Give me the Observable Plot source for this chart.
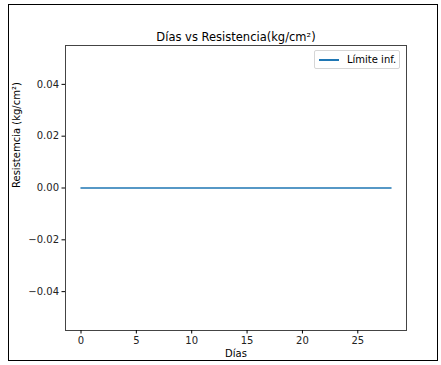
<!DOCTYPE html>
<html>
<head>
<meta charset="utf-8">
<script src="https://cdn.jsdelivr.net/npm/d3@7"></script>
<script src="https://cdn.jsdelivr.net/npm/@observablehq/plot@0.6"></script>
<style>
  html, body { margin: 0; padding: 0; background: #fff; }
  body { width: 441px; height: 365px; position: relative; overflow: hidden; font-family: "DejaVu Sans", sans-serif; }
  #border { position: absolute; left: 8px; top: 4px; width: 430px; height: 357px; border: 1.5px solid #000; box-sizing: border-box; pointer-events: none; }
  #chart { position: absolute; left: 0; top: 0; }
  #legend { position: absolute; left: 314px; top: 50px; width: 86px; height: 19px; border: 1px solid #d6d6d6; border-radius: 2px; background: #fff; box-sizing: border-box; font-size: 10px; color: #000; }
  #legend .sw { position: absolute; left: 4px; top: 8px; width: 20px; height: 2px; background: #1f77b4; }
  #legend .lb { position: absolute; left: 32px; top: 3px; white-space: nowrap; }
</style>
</head>
<body>
<div id="chart"></div>
<div id="border"></div>
<div id="legend"><div class="sw"></div><div class="lb"></div></div>
<script>
const days = [0, 3, 7, 14, 21, 28];
const limiteInf = [0, 0, 0, 0, 0, 0];
const seriesName = "Límite inf.";
const xTicks = [0, 5, 10, 15, 20, 25];
const yTicks = [-0.04, -0.02, 0.00, 0.02, 0.04];
const title = "Días vs Resistencia(kg/cm²)";
const xLabel = "Días";
const yLabel = "Resistemcia (kg/cm²)";

const data = days.map((d, i) => ({day: d, value: limiteInf[i]}));
const fmt = d3.format(".2f");

const chart = Plot.plot({
  width: 441,
  height: 365,
  marginLeft: 65,
  marginRight: 35,
  marginTop: 45,
  marginBottom: 35,
  style: {fontFamily: "DejaVu Sans, sans-serif", fontSize: "10px", background: "transparent", color: "#000"},
  x: {domain: [-1.4, 29.4], ticks: xTicks, tickSize: 3.5, label: null},
  y: {domain: [-0.055, 0.055], ticks: yTicks, tickSize: 3.5, tickFormat: fmt, label: null},
  marks: [
    Plot.frame({stroke: "#444", strokeWidth: 1}),
    Plot.axisX({ticks: xTicks, tickSize: 3.5, tickPadding: 3, fontSize: 10, stroke: "#000", fill: "#222"}),
    Plot.axisY({ticks: yTicks, tickSize: 3.5, tickPadding: 3, tickFormat: fmt, fontSize: 10, stroke: "#000", fill: "#222"}),
    Plot.line(data, {x: "day", y: "value", stroke: "#1f77b4", strokeWidth: 1.5}),
    Plot.text([title], {frameAnchor: "top", dy: -13, text: d => d, fontSize: 11.5, fill: "#000"}),
    Plot.text([xLabel], {frameAnchor: "bottom", dy: 26, text: d => d, fontSize: 10, fill: "#000"}),
    Plot.text([yLabel], {frameAnchor: "left", dx: -49, rotate: -90, text: d => d, fontSize: 10, fill: "#000"})
  ]
});
document.getElementById("chart").appendChild(chart);
document.querySelector("#legend .lb").textContent = seriesName;
</script>
</body>
</html>
